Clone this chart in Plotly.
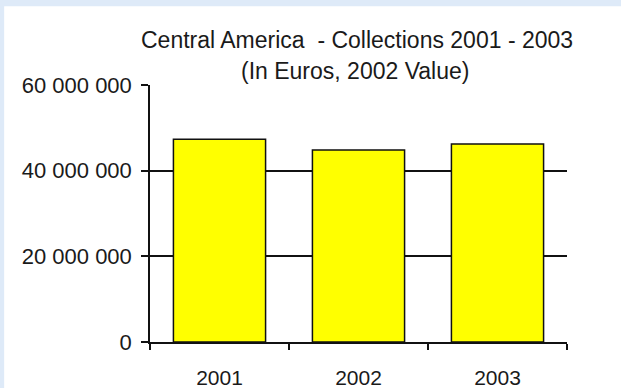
import plotly.graph_objects as go

# Annual collections, Central America (EUR, 2002 value)
years = ["2001", "2002", "2003"]
collections = [47_350_000, 44_850_000, 46_250_000]

y_tick_values = [0, 20_000_000, 40_000_000, 60_000_000]
y_tick_labels = ["0", "20 000 000", "40 000 000", "60 000 000"]

title_line1 = "Central America  - Collections 2001 - 2003"
title_line2 = "(In Euros, 2002 Value)"

W, H = 621, 388
L, R, T, B = 150, 53.5, 85, 45.5
pw, ph = W - L - R, H - T - B

def px_x(x):
    return (x - L) / pw

def px_y(y):
    return (H - B - y) / ph

FONT = "Liberation Sans, Arial, sans-serif"
INK = "#1a1a1a"

fig = go.Figure(
    go.Bar(
        x=years,
        y=collections,
        marker=dict(color="#ffff00", line=dict(color="#111111", width=1.5)),
    )
)

fig.update_layout(
    width=W,
    height=H,
    margin=dict(l=L, r=R, t=T, b=B, pad=0, autoexpand=False),
    paper_bgcolor="#deeaf8",
    plot_bgcolor="white",
    bargap=0.337,
    showlegend=False,
    font=dict(family=FONT, size=20, color=INK),
    shapes=[
        dict(
            type="rect", xref="paper", yref="paper", layer="below",
            x0=px_x(4), x1=px_x(W + 2), y0=px_y(6), y1=px_y(H + 2),
            fillcolor="white", line=dict(width=0),
        )
    ],
    annotations=[
        dict(text=title_line1, xref="paper", yref="paper",
             x=px_x(357), y=px_y(40), showarrow=False,
             xanchor="center", yanchor="middle",
             font=dict(family=FONT, size=23, color=INK)),
        dict(text=title_line2, xref="paper", yref="paper",
             x=px_x(355), y=px_y(71), showarrow=False,
             xanchor="center", yanchor="middle",
             font=dict(family=FONT, size=23, color=INK)),
    ],
)

fig.update_xaxes(
    type="category",
    automargin=False,
    showline=True, linecolor="#111111", linewidth=1.5,
    ticks="outside", tickson="boundaries", ticklen=6, tickwidth=1.5,
    tickcolor="#111111",
    showgrid=False,
    ticklabelstandoff=16,
    tickfont=dict(family=FONT, size=21, color=INK),
)

fig.update_yaxes(
    range=[0, 60_000_000],
    automargin=False,
    tickvals=y_tick_values, ticktext=y_tick_labels,
    showline=True, linecolor="#111111", linewidth=1.5,
    ticks="outside", ticklen=7, tickwidth=1.5, tickcolor="#111111",
    showgrid=True, gridcolor="#111111", gridwidth=1.5,
    zeroline=False,
    ticklabelstandoff=5,
    tickfont=dict(family=FONT, size=22, color=INK),
)

fig.write_html("out.html")
